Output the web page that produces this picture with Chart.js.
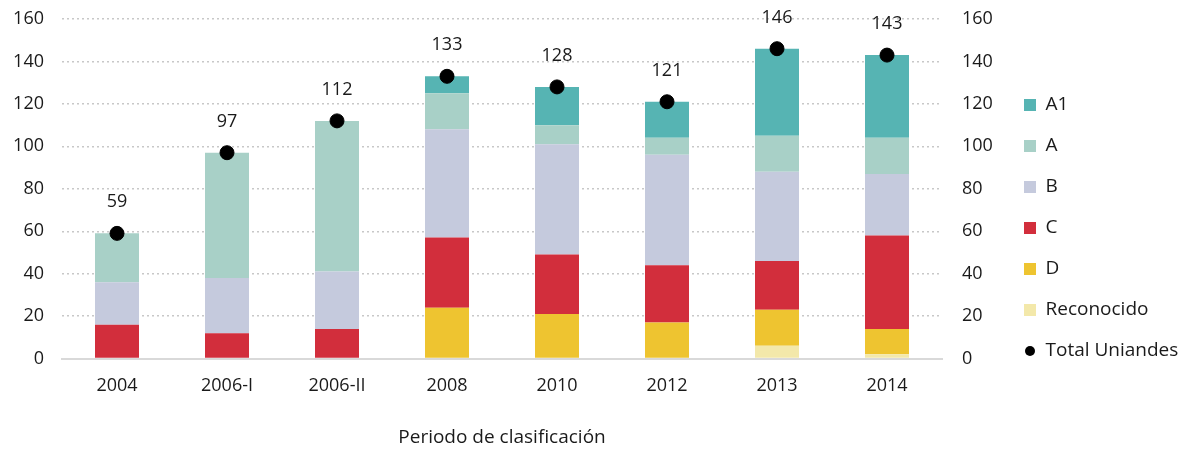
<!DOCTYPE html>
<html>
<head>
<meta charset="utf-8">
<script src="https://cdn.jsdelivr.net/npm/chart.js@4.4.1/dist/chart.umd.min.js"></script>
<style>
  html, body { margin: 0; padding: 0; background: #fff; }
  #wrap { width: 1178px; height: 451px; position: relative; }
</style>
</head>
<body>
<div id="wrap"><canvas id="grafica"></canvas></div>
<script>
// periodos de clasificación
const periodos = ['2004', '2006-I', '2006-II', '2008', '2010', '2012', '2013', '2014'];

// grupos por categoría (de abajo hacia arriba)
const reconocido = [0, 0, 0, 0, 0, 0, 6, 2];
const catD       = [0, 0, 0, 24, 21, 17, 17, 12];
const catC       = [16, 12, 14, 33, 28, 27, 23, 44];
const catB       = [20, 26, 27, 51, 52, 52, 42, 29];
const catA       = [23, 59, 71, 17, 9, 8, 17, 17];
const catA1      = [0, 0, 0, 8, 18, 17, 41, 39];
const totalUniandes = [59, 97, 112, 133, 128, 121, 146, 143];

const ejeTicks = [0, 20, 40, 60, 80, 100, 120, 140, 160];

const fuente = "'Open Sans', 'DejaVu Sans', sans-serif";
const colorTexto = '#1a1a1a';

// etiquetas numéricas encima de los puntos del total
const etiquetasTotal = {
    id: 'etiquetasTotal',
    afterDatasetsDraw(chart) {
        const meta = chart.getDatasetMeta(6);
        const ctx = chart.ctx;
        ctx.save();
        ctx.font = '18px ' + fuente;
        ctx.fillStyle = colorTexto;
        ctx.textAlign = 'center';
        ctx.textBaseline = 'middle';
        meta.data.forEach((pt, i) => {
            ctx.fillText(String(totalUniandes[i]), pt.x, pt.y - 31);
        });
        ctx.restore();
    }
};

// ancho fijo de la leyenda y un pequeño desplazamiento hacia arriba
const ajusteLeyenda = {
    id: 'ajusteLeyenda',
    beforeLayout(chart) {
        const lg = chart.legend;
        if (lg && !lg._fijo) {
            const fitOriginal = lg.fit.bind(lg);
            lg.fit = function () { fitOriginal(); this.width = 176; };
            lg._fijo = true;
        }
    },
    afterLayout(chart) {
        const lg = chart.legend;
        if (lg) { lg.top -= 6; lg.bottom -= 6; }
    }
};

// punto negro pequeño para la leyenda del total
const puntoLeyenda = document.createElement('canvas');
puntoLeyenda.width = 12; puntoLeyenda.height = 12;
(function () {
    const c = puntoLeyenda.getContext('2d');
    c.fillStyle = '#000';
    c.beginPath(); c.arc(6, 6, 5, 0, Math.PI * 2); c.fill();
})();

// los ejes verticales no deben reservar espacio extra arriba/abajo
const ajustarEjeY = (s, ancho) => {
    s.width = ancho;
    s.paddingTop = 11;
    s.paddingBottom = 11;
};

const ctx = document.getElementById('grafica').getContext('2d');

const barra = (label, data, color) => ({
    type: 'bar',
    label: label,
    data: data,
    backgroundColor: color,
    borderWidth: 0,
    stack: 'grupos',
    yAxisID: 'y',
    barPercentage: 0.4,
    categoryPercentage: 1.0,
});

new Chart(ctx, {
    data: {
        labels: periodos,
        datasets: [
            barra('Reconocido', reconocido, '#F3E8AA'),
            barra('D', catD, '#EEC430'),
            barra('C', catC, '#D22E3C'),
            barra('B', catB, '#C5CADD'),
            barra('A', catA, '#A8D0C7'),
            barra('A1', catA1, '#56B4B3'),
            {
                type: 'line',
                label: 'Total Uniandes',
                data: totalUniandes,
                showLine: false,
                pointRadius: 7,
                pointHoverRadius: 7,
                pointBackgroundColor: '#000',
                pointBorderColor: '#000',
                borderColor: '#000',
                backgroundColor: '#000',
                stack: 'total',
                yAxisID: 'y',
                order: -1,
            }
        ]
    },
    options: {
        responsive: true,
        maintainAspectRatio: false,
        animation: false,
        layout: { autoPadding: false, padding: { left: 8, right: 0, top: 19, bottom: 2 } },
        scales: {
            x: {
                stacked: true,
                grid: { display: false, drawTicks: false },
                border: { display: true, color: '#d9d9d9', width: 2 },
                ticks: { color: colorTexto, font: { family: fuente, size: 18 }, padding: 16 },
                title: {
                    display: true,
                    text: 'Periodo de clasificación',
                    color: colorTexto,
                    font: { family: fuente, size: 19 },
                    padding: { top: 14, bottom: 0 }
                }
            },
            y: {
                stacked: true,
                position: 'left',
                min: 0, max: 160,
                afterBuildTicks: s => { s.ticks = ejeTicks.map(v => ({ value: v })); },
                grid: {
                    drawTicks: false,
                    color: c => c.tick && c.tick.value === 0 ? 'rgba(0,0,0,0)' : '#c8c8c8',
                    lineWidth: 1.5,
                },
                border: { display: false, dash: [2, 3] },
                ticks: { color: colorTexto, font: { family: fuente, size: 18 }, padding: 18 },
                afterFit: s => ajustarEjeY(s, 54)
            },
            y2: {
                position: 'right',
                min: 0, max: 160,
                afterBuildTicks: s => { s.ticks = ejeTicks.map(v => ({ value: v })); },
                border: { display: false },
                grid: { display: false, drawTicks: false },
                ticks: { color: colorTexto, font: { family: fuente, size: 18 }, padding: 20 },
                afterFit: s => ajustarEjeY(s, 60)
            }
        },
        plugins: {
            tooltip: { enabled: false },
            legend: {
                position: 'right',
                align: 'center',
                labels: {
                    color: colorTexto,
                    font: { family: fuente, size: 19 },
                    boxWidth: 12,
                    boxHeight: 12,
                    padding: 22,
                    usePointStyle: true,
                    generateLabels: chart => {
                        const orden = [5, 4, 3, 2, 1, 0, 6];
                        return orden.map(i => {
                            const ds = chart.data.datasets[i];
                            return {
                                text: ds.label,
                                fillStyle: ds.backgroundColor,
                                strokeStyle: ds.backgroundColor,
                                lineWidth: 0,
                                pointStyle: i === 6 ? puntoLeyenda : 'rect',
                                datasetIndex: i,
                                fontColor: colorTexto,
                                hidden: false
                            };
                        });
                    }
                }
            }
        }
    },
    plugins: [etiquetasTotal, ajusteLeyenda]
});
</script>
</body>
</html>
